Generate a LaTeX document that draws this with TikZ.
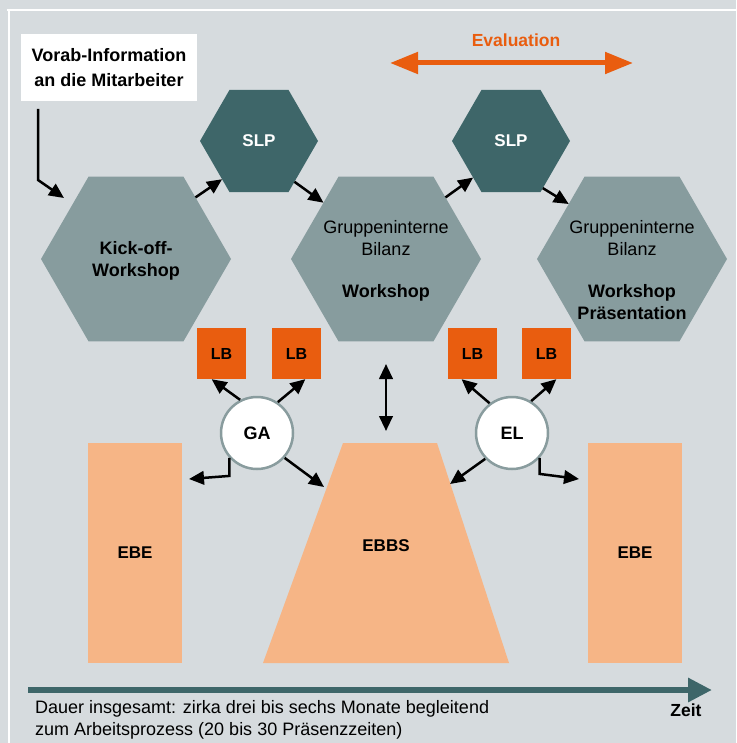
\documentclass[tikz,border=0pt]{standalone}
\usepackage{fontspec}
\setmainfont{Liberation Sans}
\usetikzlibrary{shapes.geometric,arrows.meta,calc}
\definecolor{bgc}{RGB}{214,219,222}
\definecolor{hexc}{RGB}{135,156,158}
\definecolor{slpc}{RGB}{62,102,105}
\definecolor{lbc}{RGB}{233,93,15}
\definecolor{ebec}{RGB}{246,181,134}
\definecolor{circc}{RGB}{137,156,158}
\tikzset{
  hexbig/.style={regular polygon, regular polygon sides=6, minimum size=190pt, inner sep=0pt, outer sep=0pt, fill=hexc},
  hexslp/.style={regular polygon, regular polygon sides=6, minimum size=118pt, inner sep=0pt, outer sep=0pt, fill=slpc, text=white, font=\bfseries\fontsize{17}{22}\selectfont},
  lbbox/.style={rectangle, fill=lbc, minimum width=49pt, minimum height=51pt, inner sep=0pt, font=\bfseries\fontsize{16}{20}\selectfont},
  ebebox/.style={rectangle, fill=ebec, minimum width=94pt, minimum height=220pt, inner sep=0pt, font=\bfseries\fontsize{17}{22}\selectfont},
  circ/.style={circle, fill=white, draw=circc, line width=2.5pt, minimum size=72pt, inner sep=0pt, font=\bfseries\fontsize{18}{22}\selectfont},
  txt/.style={font=\fontsize{18}{22}\selectfont, align=center, inner sep=0pt},
  btxt/.style={font=\bfseries\fontsize{18}{22}\selectfont, align=center, inner sep=0pt},
  tipa/.tip={Triangle[length=15pt,width=13.5pt]},
  arr/.style={line width=2.5pt, -tipa},
  darr/.style={line width=2.5pt, tipa-tipa},
}
\begin{document}
\begin{tikzpicture}[x=1pt,y=-1pt]
\useasboundingbox (0,0) rectangle (736,743);
\fill[bgc] (0,0) rectangle (736,743);
\draw[white,line width=2.5pt] (7,10) -- (736,10);
\draw[white,line width=2.5pt] (9,10) -- (9,743);

% Vorab box
\node[fill=white, minimum width=176pt, minimum height=67pt, inner sep=0pt, align=center,
      font=\bfseries\fontsize{18}{25}\selectfont] (vorab) at (109,67.5) {Vorab-Information\\an die Mitarbeiter};

% Hexagons
\node[hexbig] (kick) at (136,259) {};
\node[hexbig] (hexb) at (386,259) {};
\node[hexbig] (hexc) at (632,259) {};
\node[hexslp] (slpa) at (259,141) {SLP};
\node[hexslp] (slpb) at (511,141) {SLP};

\node[btxt] (kicktxt) at (136,261) {Kick-off-\\Workshop};
\node[txt, anchor=north] (hexbtxt) at (386,220) {Gruppeninterne\\Bilanz\\[20pt]\textbf{Workshop}};
\node[txt, anchor=north] (hexctxt) at (632,220) {Gruppeninterne\\Bilanz\\[20pt]\textbf{Workshop}\\\textbf{Präsentation}};

% Evaluation
\node[font=\bfseries\fontsize{17.5}{22}\selectfont, text=lbc, inner sep=0pt] (evaltxt) at (516,40) {Evaluation};
\coordinate (evl) at (390,63);
\coordinate (evr) at (633,63);
\draw[lbc, line width=5pt, {Triangle[length=28pt,width=21pt]}-{Triangle[length=28pt,width=21pt]}] (evl) -- (evr);

% Vorab arrow
\coordinate (vstart) at (38,109);
\coordinate (vtip) at (64,198);
\draw[arr] (vstart) -- (38,180) -- (vtip);

% hexagon chain arrows
\draw[arr] (kick.46) -- (slpa.226);
\draw[arr] (slpa.311) -- (hexb.138.5);
\draw[arr] (hexb.46) -- (slpb.224);
\draw[arr] (slpb.304) -- (hexc.139);

% LB boxes
\node[lbbox] (lba) at (221.5,353.5) {LB};
\node[lbbox] (lbb) at (296.5,353.5) {LB};
\node[lbbox] (lbc) at (472.5,353.5) {LB};
\node[lbbox] (lbd) at (546.5,353.5) {LB};

% circles
\node[circ] (ga) at (257,433) {GA};
\node[circ] (el) at (512,433) {EL};

% EBE and EBBS
\node[ebebox] (ebel) at (135,553) {EBE};
\node[ebebox] (eber) at (635,553) {EBE};
\fill[ebec] (343,443) -- (437,443) -- (509,663) -- (263,663) -- cycle;
\node[btxt, font=\bfseries\fontsize{17}{22}\selectfont] (ebbs) at (386,546) {EBBS};

% arrows from GA
\draw[arr] (ga.117) -- (lba.-111);
\draw[arr] (ga.56) -- (lbb.-71);
\coordinate (gatoebe) at (189,479);
\draw[arr] (ga.222) -- ++(0,18) -- (gatoebe);
\coordinate (gatoebbs) at (324,487);
\draw[arr] (ga.-42) -- (gatoebbs);

% arrows from EL
\draw[arr] (el.127) -- (lbc.-113);
\draw[arr] (el.59) -- (lbd.-69);
\coordinate (eltoebe) at (579,479);
\draw[arr] (el.-42) -- ++(0,16) -- (eltoebe);
\coordinate (eltoebbs) at (450,484);
\draw[arr] (el.224) -- (eltoebbs);

% double arrow
\coordinate (dtop) at (386,364);
\coordinate (dbot) at (386,431);
\draw[darr] (dtop) -- (dbot);

% timeline
\coordinate (tl) at (28,690);
\coordinate (tr) at (712,690);
\draw[slpc, line width=6pt, -{Triangle[length=24pt,width=23pt]}] (tl) -- (tr);
\node[font=\fontsize{18}{22}\selectfont, align=left, anchor=north west, inner sep=0pt] (dauer) at (35,700)
  {Dauer insgesamt: zirka drei bis sechs Monate begleitend\\zum Arbeitsprozess (20 bis 30 Präsenzzeiten)};
\node[font=\bfseries\fontsize{17.5}{22}\selectfont, inner sep=0pt] (zeit) at (686,710) {Zeit};
\end{tikzpicture}
\end{document}
